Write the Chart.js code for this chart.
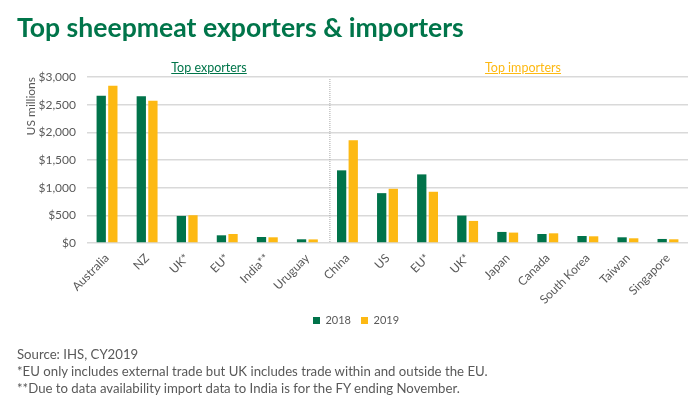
<!DOCTYPE html>
<html>
<head>
<meta charset="utf-8">
<script src="https://cdn.jsdelivr.net/npm/chart.js@4"></script>
<style>
  html, body { margin: 0; padding: 0; background: #fff; }
  body { width: 700px; height: 405px; position: relative; overflow: hidden; font-family: Lato, sans-serif; }
  canvas { position: absolute; left: 0; top: 0; }
  .txt { position: absolute; white-space: nowrap; }
  #title { left: 17px; top: 10px; font-size: 26.6px; font-weight: bold; color: #00754A; line-height: 34px; }
  .head { top: 60px; font-size: 12.5px; line-height: 16px; text-decoration: underline; transform: translateX(-50%); }
  #notes { left: 17px; top: 346px; font-size: 13.2px; line-height: 17px; color: #595959; }
</style>
</head>
<body>
<canvas id="myChart" width="700" height="348"></canvas>
<div class="txt" id="title">Top sheepmeat exporters &amp; importers</div>
<div class="txt head" style="left:209px;color:#00754A">Top exporters</div>
<div class="txt head" style="left:523px;color:#FDB913">Top importers</div>
<div class="txt" id="notes">Source: IHS, CY2019<br>*EU only includes external trade but UK includes trade within and outside the EU.<br>**Due to data availability import data to India is for the FY ending November.</div>
<script>
let labels = ['Australia', 'NZ', 'UK*', 'EU*', 'India**', 'Uruguay', 'China', 'US', 'EU*', 'UK*', 'Japan', 'Canada', 'South Korea', 'Taiwan', 'Singapore'];
let values2018 = [2662, 2650, 490, 139, 109, 67, 1313, 901, 1240, 496, 200, 163, 127, 103, 73];
let values2019 = [2843, 2571, 502, 163, 103, 65, 1857, 980, 926, 399, 188, 175, 121, 85, 67];
let yTicks = [0, 500, 1000, 1500, 2000, 2500, 3000];

let textGrey = '#595959';

// dotted line between the exporters and the importers
let divider = {
  id: 'divider',
  afterDatasetsDraw(chart) {
    let x = chart.scales.x;
    let y = chart.scales.y;
    let pos = (x.getPixelForValue(5) + x.getPixelForValue(6)) / 2 + 2.5;
    let c = chart.ctx;
    c.save();
    c.strokeStyle = '#a6a6a6';
    c.lineWidth = 1;
    c.setLineDash([1, 1]);
    c.beginPath();
    c.moveTo(pos, y.getPixelForValue(3000) + 2);
    c.lineTo(pos, y.getPixelForValue(0));
    c.stroke();
    c.restore();
  }
};

// x scale has to be tall or long labels get clipped, so pull the legend back up
let legendUp = {
  id: 'legendUp',
  afterLayout(chart) {
    chart.legend.top -= 6;
    chart.legend.bottom -= 6;
  }
};

let ctx = document.getElementById('myChart').getContext('2d');

let myChart = new Chart(ctx, {
  type: 'bar',
  data: {
    labels: labels,
    datasets: [
      { label: '2018', data: values2018, backgroundColor: '#00734A' },
      { label: '2019', data: values2019, backgroundColor: '#FDB913' }
    ]
  },
  plugins: [divider, legendUp],
  options: {
    responsive: false,
    animation: false,
    categoryPercentage: 0.58,
    barPercentage: 0.8,
    layout: {
      padding: { top: 77, left: 24, right: 12, bottom: 6 }
    },
    plugins: {
      title: { display: false },
      tooltip: { enabled: false },
      legend: {
        position: 'bottom',
        labels: {
          color: textGrey,
          font: { family: 'Lato', size: 11 },
          boxWidth: 7,
          boxHeight: 7,
          padding: 10
        }
      }
    },
    scales: {
      x: {
        grid: { display: false },
        border: { display: false },
        afterFit(scale) { scale.height = 68; },
        ticks: {
          color: textGrey,
          font: { family: 'Lato', size: 12 },
          padding: 0,
          maxRotation: 45,
          minRotation: 45,
          autoSkip: false
        }
      },
      y: {
        min: 0,
        max: 3000,
        afterFit(scale) { scale.width = 63; },
        afterBuildTicks(scale) { scale.ticks = yTicks.map(v => ({ value: v })); },
        grid: { color: '#d9d9d9', lineWidth: 1.5, drawTicks: false },
        border: { display: false },
        title: {
          display: true,
          text: 'US millions',
          align: 'end',
          color: textGrey,
          font: { family: 'Lato', size: 12 },
          padding: 0
        },
        ticks: {
          color: textGrey,
          font: { family: 'Lato', size: 12 },
          padding: 11,
          callback: v => '$' + v.toLocaleString('en-US')
        }
      }
    }
  }
});
</script>
</body>
</html>
